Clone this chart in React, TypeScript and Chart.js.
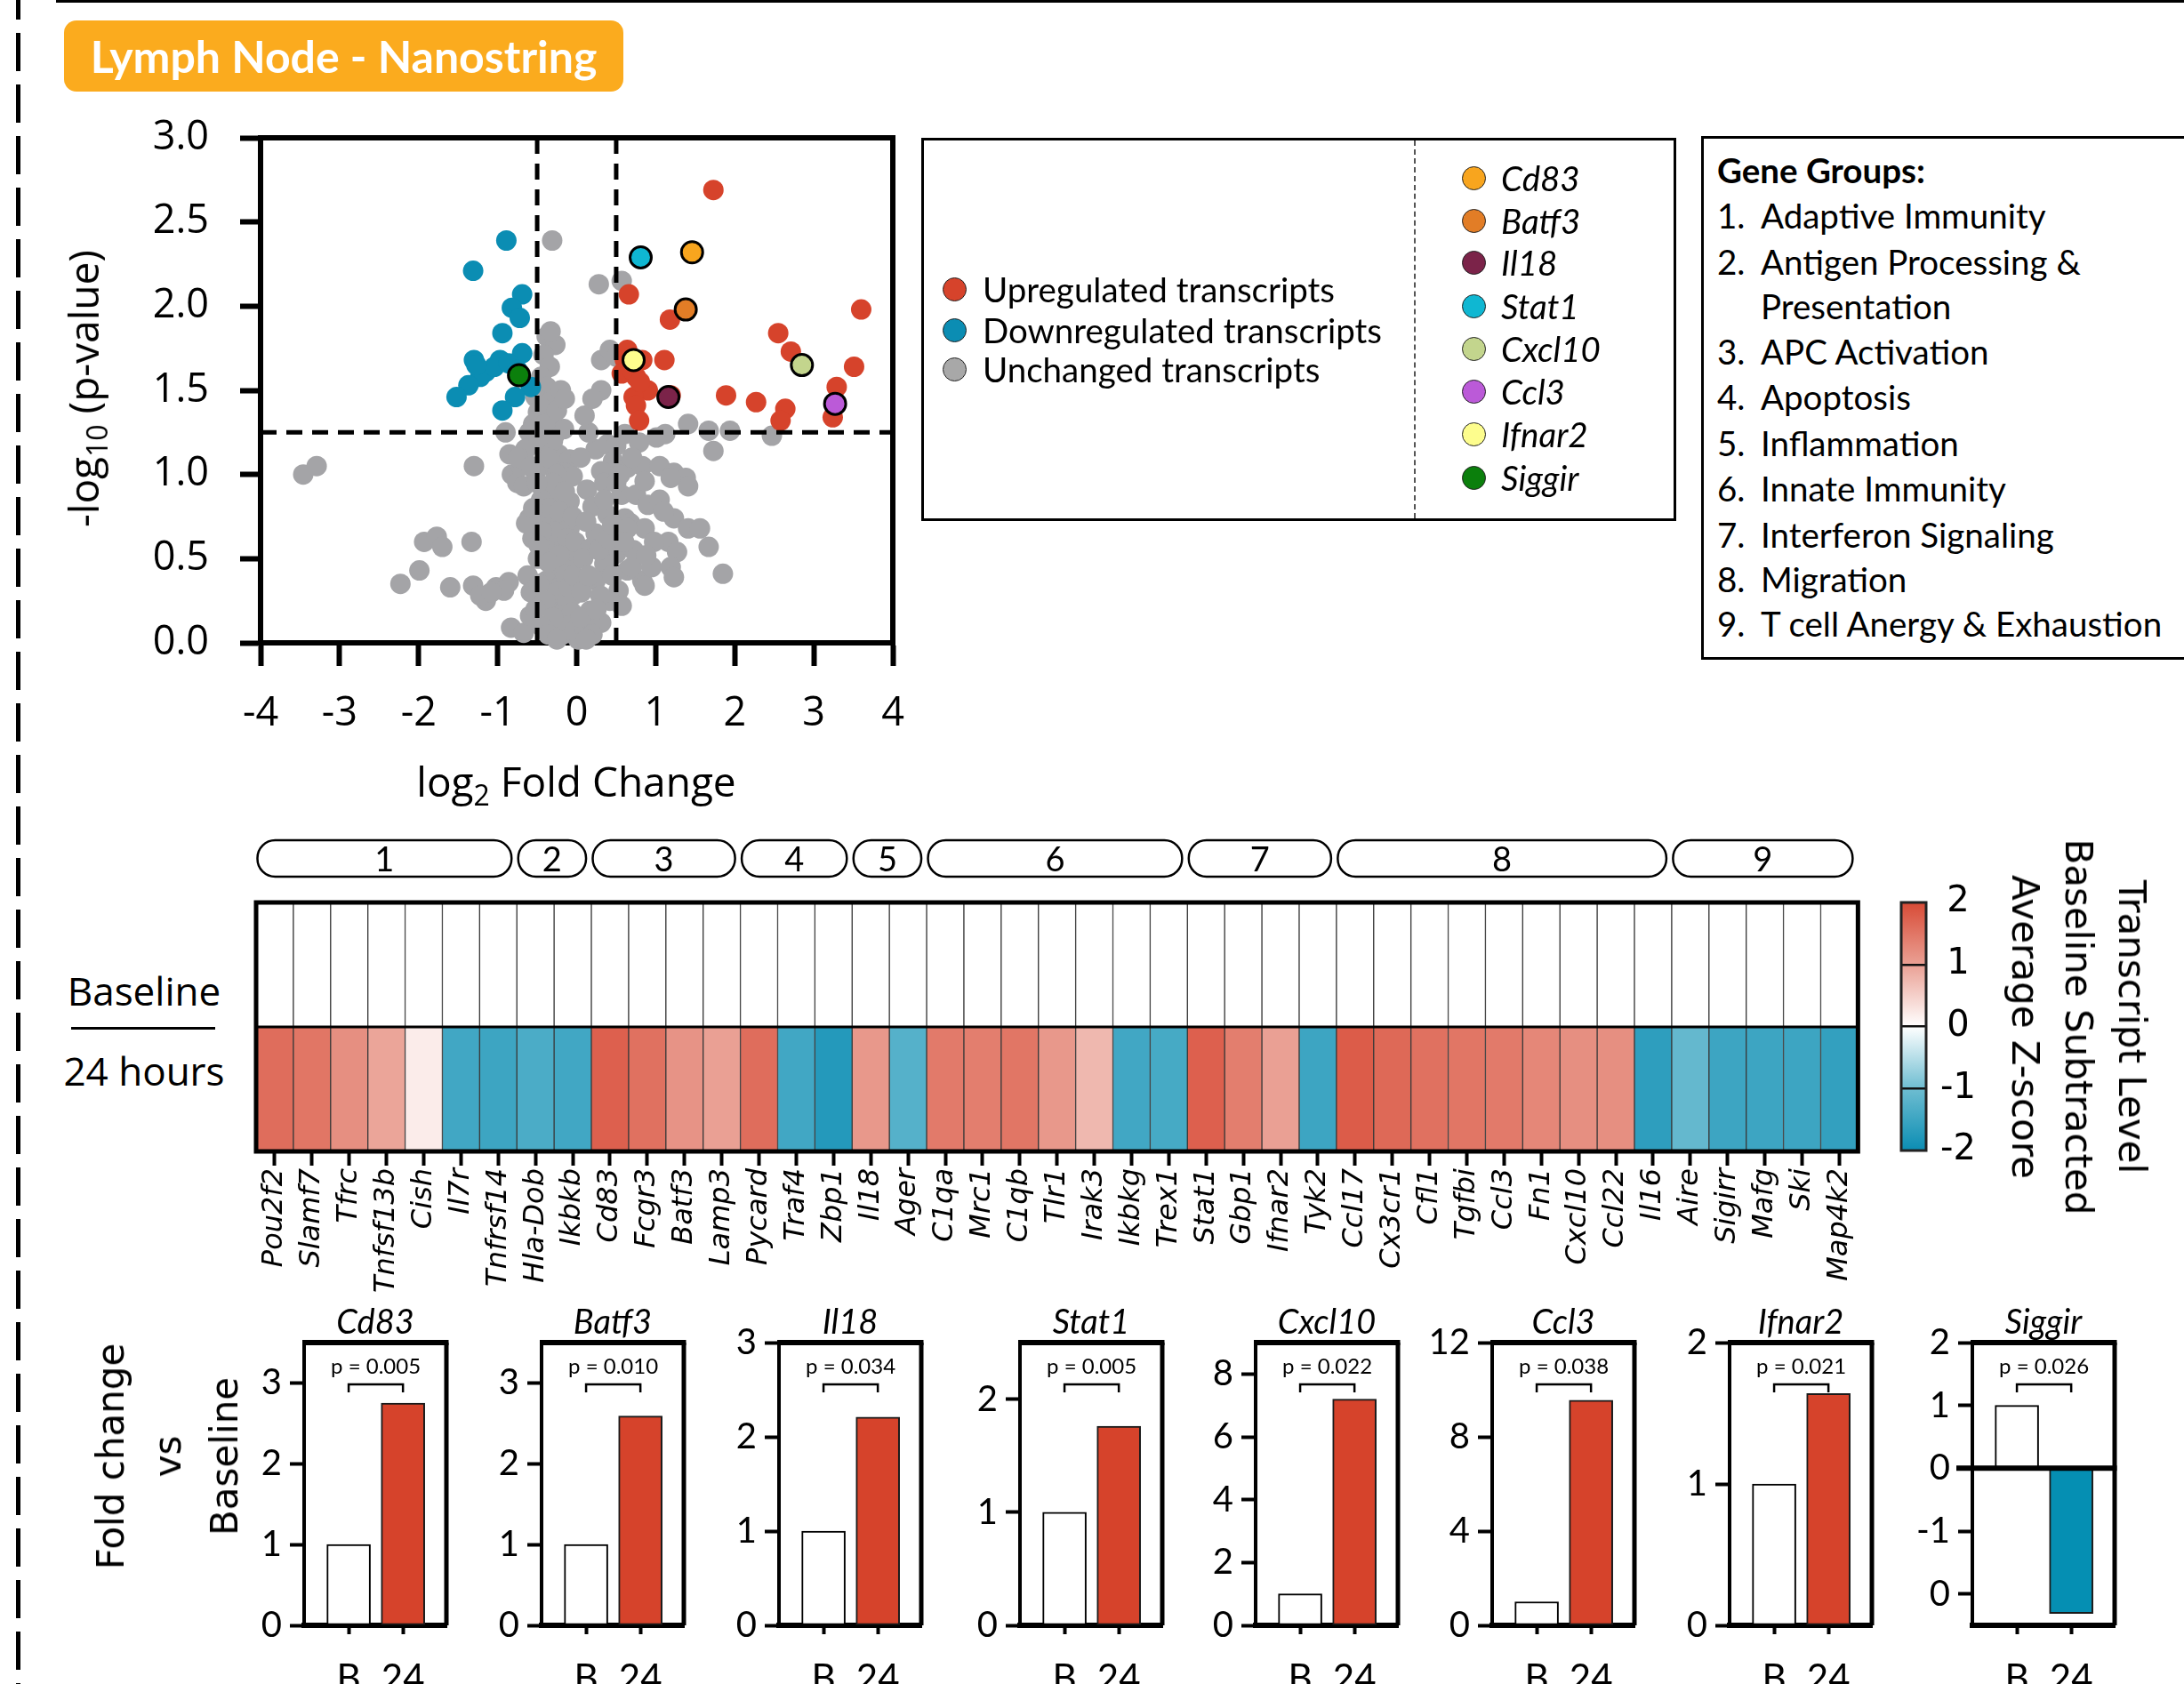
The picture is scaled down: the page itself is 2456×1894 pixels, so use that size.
import React, { useEffect, useRef } from "react";
import { Chart, registerables } from "chart.js";

Chart.register(...registerables);

// ======================= DATA =======================

// Volcano plot points: [log2 fold change, -log10 p-value]
const GRAY_POINTS: number[][] = [
  [-3.46, 1.0], [-3.29, 1.05], [-1.3, 1.05],
  [-1.93, 0.6], [-1.77, 0.63], [-1.7, 0.57], [-1.33, 0.6], [-1.99, 0.43], [-2.23, 0.35],
  [-1.6, 0.33], [-1.31, 0.34], [-1.15, 0.25], [-1.02, 0.33], [-0.86, 0.36], [-0.92, 0.31],
  [-0.83, 0.09], [-0.67, 0.06], [-0.59, 0.16], [-0.62, 0.4], [-0.58, 0.3], [-1.22, 0.28], [-1.08, 0.3],
  [-0.31, 2.39], [0.28, 2.13], [0.57, 2.15], [0.31, 1.68], [0.42, 1.74], [0.5, 1.7], [0.31, 1.5],
  [-0.38, 1.82], [-0.27, 1.77], [-0.33, 1.85],
  [1.41, 1.3], [1.67, 1.26], [1.94, 1.26], [1.73, 1.14], [2.47, 1.23], [1.12, 1.24], [1.01, 1.22],
  [-0.9, 1.25], [-0.85, 1.12], [-0.82, 1.0], [-0.75, 0.95], [-0.7, 1.05], [-0.65, 1.15], [-0.6, 1.25], [-0.55, 1.3],
  [-0.42, 1.71], [-0.34, 1.64], [-0.45, 1.58], [-0.38, 1.52], [-0.52, 1.46], [-0.34, 1.43], [-0.49, 1.37],
  [-0.31, 1.33], [-0.56, 1.27], [-0.27, 1.24], [-0.16, 1.27], [-0.42, 1.18], [-0.64, 1.15], [-0.74, 1.1],
  [-0.23, 1.12], [-0.09, 1.09], [-0.34, 1.05], [-0.52, 1.01], [-0.16, 1.01], [-0.05, 0.99], [-0.67, 0.93],
  [-0.42, 0.9], [-0.27, 0.87], [-0.09, 0.84], [-0.6, 0.74], [-0.38, 0.74], [-0.2, 0.71], [-0.09, 0.68],
  [-0.56, 0.62], [-0.34, 0.59], [-0.16, 0.57], [-0.05, 0.53], [-0.64, 0.71], [-0.49, 0.5], [-0.27, 0.45],
  [-0.09, 0.43], [-0.38, 0.37], [-0.2, 0.34], [-0.05, 0.28], [-0.31, 0.25], [-0.16, 0.19], [-0.01, 0.12],
  [-0.27, 0.09], [-0.09, 0.06], [0.02, 0.02],
  [-0.45, 1.4], [-0.4, 1.3], [-0.3, 1.2], [-0.36, 1.1], [-0.25, 1.0], [-0.3, 0.95], [-0.45, 0.85],
  [-0.35, 0.8], [-0.22, 0.78], [-0.28, 0.66], [-0.44, 0.66], [-0.12, 0.62], [-0.22, 0.52], [-0.36, 0.48],
  [-0.14, 0.4], [-0.26, 0.3], [-0.12, 0.25], [-0.22, 0.16], [-0.06, 0.18], [-0.18, 0.05], [-0.12, 0.1],
  [-0.03, 0.07], [-0.2, 1.5], [-0.25, 1.38], [-0.15, 1.45], [-0.48, 1.22], [-0.58, 1.05], [-0.5, 0.95],
  [-0.55, 0.8], [-0.15, 0.9], [-0.05, 0.75], [-0.48, 0.58], [-0.4, 0.25], [-0.3, 0.15], [-0.48, 0.35],
  [-0.52, 0.2], [-0.45, 0.1], [-0.36, 0.05], [-0.25, 0.02], [-0.1, 0.33], [-0.04, 0.4], [-0.02, 0.6],
  [0.24, 1.15], [0.39, 1.18], [0.5, 1.17], [0.61, 1.24], [0.79, 1.19], [0.46, 1.08], [0.64, 1.04],
  [0.83, 1.05], [1.05, 1.05], [1.23, 1.01], [1.38, 0.98], [1.41, 0.93], [0.31, 1.02], [0.13, 0.91],
  [0.35, 0.95], [0.57, 0.88], [0.75, 0.88], [0.9, 0.82], [1.19, 0.98], [0.86, 0.96], [0.2, 0.81],
  [0.39, 0.76], [0.61, 0.74], [0.68, 0.71], [0.86, 0.68], [0.64, 0.68], [1.23, 0.74], [1.41, 0.68],
  [1.56, 0.68], [1.67, 0.57], [1.16, 0.6], [1.27, 0.54], [1.19, 0.45], [1.23, 0.39], [1.85, 0.41],
  [0.83, 0.37], [0.86, 0.34], [0.64, 0.43], [0.5, 0.53], [0.24, 0.65], [0.17, 0.56], [0.35, 0.47],
  [0.53, 0.31], [0.24, 0.37], [0.42, 0.25], [0.57, 0.22], [0.17, 0.19], [0.31, 0.12], [0.1, 0.09],
  [0.2, 0.05], [0.06, 0.3], [0.08, 0.5], [0.12, 0.72], [0.28, 0.55], [0.4, 0.62], [0.45, 0.4],
  [0.3, 0.28], [0.15, 0.4], [0.05, 0.15], [0.12, 0.02], [0.25, 0.2], [0.35, 0.85], [0.5, 0.95],
  [0.45, 0.7], [0.72, 0.55], [0.6, 0.6], [0.7, 0.45], [0.95, 0.45], [0.98, 0.6], [0.88, 0.52],
  [1.05, 0.85], [1.1, 0.78], [0.7, 1.1], [0.55, 1.0], [0.15, 1.25], [0.1, 1.35], [0.2, 1.45], [0.05, 1.1],
];

const UP_POINTS: number[][] = [
  [1.73, 2.69], [0.66, 2.07], [1.18, 1.92], [3.6, 1.98], [2.55, 1.84], [2.71, 1.73], [3.51, 1.64],
  [3.29, 1.52], [0.64, 1.74], [0.61, 1.68], [0.83, 1.68], [1.11, 1.68], [0.9, 1.5], [0.57, 1.6],
  [0.75, 1.58], [0.72, 1.46], [0.75, 1.41], [0.79, 1.32], [1.19, 1.47], [1.89, 1.47], [2.27, 1.43],
  [2.64, 1.39], [2.58, 1.32], [3.24, 1.34], [0.7, 1.62], [0.8, 1.55],
];

const DOWN_POINTS: number[][] = [
  [-0.89, 2.39], [-1.31, 2.21], [-0.69, 2.07], [-0.82, 1.99], [-0.72, 1.93], [-0.94, 1.84],
  [-0.69, 1.72], [-1.3, 1.68], [-0.97, 1.68], [-1.15, 1.61], [-1.22, 1.58], [-1.37, 1.53],
  [-1.52, 1.46], [-0.58, 1.52], [-0.78, 1.46], [-0.94, 1.38], [-1.04, 1.64], [-0.86, 1.66],
  [-1.27, 1.65], [-0.75, 1.62],
];

const HIGHLIGHT_GENES = ["Cd83", "Batf3", "Il18", "Stat1", "Cxcl10", "Ccl3", "Ifnar2", "Siggir"];
const HIGHLIGHT_FC = [1.46, 1.38, 1.16, 0.81, 2.85, 3.27, 0.72, -0.73];
const HIGHLIGHT_P = [2.32, 1.98, 1.46, 2.29, 1.65, 1.42, 1.68, 1.59];

const FC_CUTOFFS = [-0.5, 0.5];
const P_CUTOFF = 1.25;

const LEGEND_CLASSES = ["Upregulated transcripts", "Downregulated transcripts", "Unchanged transcripts"];

const GENE_GROUP_ROWS: string[][] = [
  ["1.", "Adaptive Immunity"],
  ["2.", "Antigen Processing &"],
  ["", "Presentation"],
  ["3.", "APC Activation"],
  ["4.", "Apoptosis"],
  ["5.", "Inflammation"],
  ["6.", "Innate Immunity"],
  ["7.", "Interferon Signaling"],
  ["8.", "Migration"],
  ["9.", "T cell Anergy & Exhaustion"],
];

// Heatmap
const HEATMAP_GENES = [
  "Pou2f2", "Slamf7", "Tfrc", "Tnfsf13b", "Cish", "Il7r", "Tnfrsf14", "Hla-Dob", "Ikbkb",
  "Cd83", "Fcgr3", "Batf3", "Lamp3", "Pycard", "Traf4", "Zbp1", "Il18", "Ager",
  "C1qa", "Mrc1", "C1qb", "Tlr1", "Irak3", "Ikbkg", "Trex1", "Stat1", "Gbp1", "Ifnar2", "Tyk2",
  "Ccl17", "Cx3cr1", "Cfl1", "Tgfbi", "Ccl3", "Fn1", "Cxcl10", "Ccl22", "Il16",
  "Aire", "Sigirr", "Mafg", "Ski", "Map4k2",
];
const Z_24H = [
  1.6, 1.5, 1.2, 0.95, 0.2, -1.45, -1.5, -1.35, -1.45,
  1.75, 1.55, 1.15, 1.0, 1.6, -1.45, -1.75, 1.1, -1.25,
  1.45, 1.4, 1.5, 1.1, 0.75, -1.45, -1.4, 1.75, 1.4, 1.0, -1.5,
  1.8, 1.65, 1.55, 1.5, 1.45, 1.3, 1.2, 1.2, -1.65,
  -1.1, -1.5, -1.5, -1.5, -1.6,
];
const Z_BASELINE = [
  0, 0, 0, 0, 0, 0, 0, 0, 0,
  0, 0, 0, 0, 0, 0, 0, 0, 0,
  0, 0, 0, 0, 0, 0, 0, 0, 0, 0, 0,
  0, 0, 0, 0, 0, 0, 0, 0, 0,
  0, 0, 0, 0, 0,
];
const ROW_LABELS = ["Baseline", "24 hours"];
const GROUP_LABELS = ["1", "2", "3", "4", "5", "6", "7", "8", "9"];
const GROUP_FIRST = [0, 7, 9, 13, 16, 18, 25, 29, 38];
const GROUP_LAST = [6, 8, 12, 15, 17, 24, 28, 37, 42];
const COLORBAR_TITLE = ["Transcript Level", "Baseline Subtracted", "Average Z-score"];

// Bar charts
const BAR_GENES = ["Cd83", "Batf3", "Il18", "Stat1", "Cxcl10", "Ccl3", "Ifnar2", "Siggir"];
const BAR_CATEGORIES = ["B", "24"];
const BAR_BASELINE = [1, 1, 1, 1, 1, 1, 1, 1];
const BAR_24H = [2.75, 2.59, 2.21, 1.76, 7.2, 9.55, 1.64, -2.31];
const BAR_PVALUES = ["p = 0.005", "p = 0.010", "p = 0.034", "p = 0.005", "p = 0.022", "p = 0.038", "p = 0.021", "p = 0.026"];
const BAR_YMIN = [0, 0, 0, 0, 0, 0, 0, -2.5];
const BAR_YMAX = [3.5, 3.5, 3, 2.5, 9, 12, 2, 2];
const BAR_YTICKS: number[][] = [
  [0, 1, 2, 3], [0, 1, 2, 3], [0, 1, 2, 3], [0, 1, 2], [0, 2, 4, 6, 8], [0, 4, 8, 12], [0, 1, 2], [-2, -1, 0, 1, 2],
];
const BAR_YTICK_LABELS: string[][] = [
  ["0", "1", "2", "3"], ["0", "1", "2", "3"], ["0", "1", "2", "3"], ["0", "1", "2"],
  ["0", "2", "4", "6", "8"], ["0", "4", "8", "12"], ["0", "1", "2"], ["0", "-1", "0", "1", "2"],
];
const BAR_Y_TITLE = ["Fold change", "vs", "Baseline"];

// ======================= STYLE / LAYOUT =======================

const C_UP = "#d6432b";
const C_DOWN = "#0b8db3";
const C_GRAY = "#a4a4a7";
const HL_COLORS = ["#f8a51e", "#e27d26", "#7b2349", "#0fb7d2", "#c3d58d", "#bb5ad8", "#fdfd8d", "#0b7f0c"];
const LEGEND_COLORS = [C_UP, C_DOWN, "#a8a8a8"];
const BAR_24_COLORS = [C_UP, C_UP, C_UP, C_UP, C_UP, C_UP, C_UP, "#058fb3"];
const Z_STOPS: [number, number[]][] = [
  [-2, [11, 141, 179]],
  [-1, [110, 189, 209]],
  [0, [255, 255, 255]],
  [1, [234, 160, 148]],
  [2, [216, 75, 54]],
];

function zColor(z: number): string {
  const v = Math.max(-2, Math.min(2, z));
  for (let i = 0; i < Z_STOPS.length - 1; i++) {
    const [z0, c0] = Z_STOPS[i];
    const [z1, c1] = Z_STOPS[i + 1];
    if (v >= z0 && v <= z1) {
      const t = (v - z0) / (z1 - z0);
      const c = c0.map((a, k) => Math.round(a + (c1[k] - a) * t));
      return `rgb(${c[0]},${c[1]},${c[2]})`;
    }
  }
  return "#fff";
}

const VOLCANO_BOX = { x: 0, y: 85, w: 1050, h: 795 };
const VOLCANO_AREA = { left: 293, top: 155, right: 1004, bottom: 723 };
const HEAT_BOX = { x: 270, y: 930, w: 1840, h: 530 };
const HEAT_AREA = { left: 288, top: 1015, right: 2094, bottom: 1295 };
const CB_BOX = { x: 2125, y: 955, w: 140, h: 400 };
const CB_AREA = { left: 2138, top: 1015, right: 2166, bottom: 1294 };
const BAR_LEFT = [342, 609, 876, 1147, 1412, 1678, 1945, 2218];
const BAR_W = 160;
const BAR_TOP = 1510;
const BAR_BOTTOM = 1828;

const toXY = (pts: number[][]) => pts.map(([x, y]) => ({ x, y }));

function seg(ctx: any, x1: number, y1: number, x2: number, y2: number) {
  ctx.beginPath();
  ctx.moveTo(x1, y1);
  ctx.lineTo(x2, y2);
  ctx.stroke();
}

const baseOpts = {
  responsive: false,
  animation: false,
  events: [],
  plugins: { legend: { display: false }, tooltip: { enabled: false }, title: { display: false } },
};

// ======================= CHART CONFIGS =======================

const volcanoDecor = {
  id: "volcanoDecor",
  afterDatasetsDraw(chart: any) {
    const { ctx, chartArea: a, scales } = chart;
    const { x, y } = scales;
    ctx.save();
    ctx.strokeStyle = "#000";
    ctx.lineWidth = 5;
    ctx.setLineDash([18, 11]);
    for (const v of FC_CUTOFFS) {
      const px = x.getPixelForValue(v);
      seg(ctx, px, a.top, px, a.bottom);
    }
    const py = y.getPixelForValue(P_CUTOFF);
    seg(ctx, a.left, py, a.right, py);
    ctx.setLineDash([]);
    ctx.lineWidth = 6;
    seg(ctx, a.left - 3, a.top, a.right + 3, a.top);
    seg(ctx, a.right, a.top, a.right, a.bottom + 3);
    ctx.restore();
  },
};

function volcanoConfig(): any {
  const B = VOLCANO_BOX;
  const A = VOLCANO_AREA;
  const tickFont = { family: '"Open Sans"', size: 45 };
  return {
    type: "scatter",
    data: {
      datasets: [
        {
          data: HIGHLIGHT_FC.map((x, i) => ({ x, y: HIGHLIGHT_P[i] })),
          backgroundColor: HL_COLORS, borderColor: "#000", borderWidth: 3, pointRadius: 12, order: 0, clip: false,
        },
        { data: toXY(UP_POINTS), backgroundColor: C_UP, borderWidth: 0, pointRadius: 11.5, order: 1, clip: false },
        { data: toXY(DOWN_POINTS), backgroundColor: C_DOWN, borderWidth: 0, pointRadius: 11.5, order: 2, clip: false },
        { data: toXY(GRAY_POINTS), backgroundColor: C_GRAY, borderWidth: 0, pointRadius: 11.5, order: 3, clip: false },
      ],
    },
    options: {
      ...baseOpts,
      layout: { padding: { left: 0, top: A.top - B.y, right: B.x + B.w - A.right, bottom: 0 } },
      scales: {
        x: {
          type: "linear", min: -4, max: 4,
          ticks: { stepSize: 1, font: tickFont, color: "#000", padding: 27, maxRotation: 0 },
          grid: { drawOnChartArea: false, tickLength: 26, tickWidth: 6, tickColor: "#000" },
          border: { width: 6, color: "#000" },
          afterFit: (s: any) => { s.height = B.y + B.h - A.bottom; },
        },
        y: {
          type: "linear", min: 0, max: 3,
          ticks: { stepSize: 0.5, font: tickFont, color: "#000", padding: 35, callback: (v: any) => Number(v).toFixed(1) },
          grid: { drawOnChartArea: false, tickLength: 23, tickWidth: 6, tickColor: "#000" },
          border: { width: 6, color: "#000" },
          afterFit: (s: any) => { s.width = A.left - B.x; },
        },
      },
    },
    plugins: [volcanoDecor],
  };
}

const heatDecor = {
  id: "heatDecor",
  afterDraw(chart: any) {
    const { ctx, chartArea: a, scales } = chart;
    const { x, y } = scales;
    ctx.save();
    ctx.strokeStyle = "#000";
    ctx.lineWidth = 3;
    const ym = y.getPixelForValue(1);
    seg(ctx, a.left, ym, a.right, ym);
    ctx.lineWidth = 5;
    ctx.strokeRect(a.left, a.top, a.right - a.left, a.bottom - a.top);
    const half = (x.getPixelForValue(1) - x.getPixelForValue(0)) / 2;
    ctx.lineWidth = 2.5;
    ctx.fillStyle = "#000";
    ctx.font = "38px Lato";
    ctx.textAlign = "center";
    ctx.textBaseline = "middle";
    for (let g = 0; g < GROUP_LABELS.length; g++) {
      const l = x.getPixelForValue(GROUP_FIRST[g]) - half + 1.5;
      const r = x.getPixelForValue(GROUP_LAST[g]) + half - 6;
      const t = a.top - 70;
      const b = a.top - 29;
      ctx.beginPath();
      ctx.roundRect(l, t, r - l, b - t, 20);
      ctx.stroke();
      ctx.fillText(GROUP_LABELS[g], (l + r) / 2, (t + b) / 2 + 2);
    }
    ctx.restore();
  },
};

function heatmapConfig(): any {
  const B = HEAT_BOX;
  const A = HEAT_AREA;
  const cell = { barPercentage: 1, categoryPercentage: 1, borderColor: "#3a3a3a", borderWidth: 1, borderSkipped: false, grouped: false };
  return {
    type: "bar",
    data: {
      labels: HEATMAP_GENES,
      datasets: [
        { label: ROW_LABELS[1], data: Z_24H.map(() => [0, 1]), backgroundColor: Z_24H.map(zColor), ...cell },
        { label: ROW_LABELS[0], data: Z_BASELINE.map(() => [1, 2]), backgroundColor: Z_BASELINE.map(zColor), ...cell },
      ],
    },
    options: {
      ...baseOpts,
      layout: { padding: { left: A.left - B.x, top: A.top - B.y, right: B.x + B.w - A.right, bottom: 0 } },
      scales: {
        x: {
          type: "category", offset: true,
          ticks: { autoSkip: false, maxRotation: 90, minRotation: 90, font: { family: '"DejaVu Sans"', style: "italic", size: 32 }, color: "#000", padding: 3 },
          grid: { offset: false, drawOnChartArea: false, tickLength: 16, tickWidth: 4, tickColor: "#000" },
          border: { display: false },
          afterFit: (s: any) => { s.height = B.y + B.h - A.bottom; },
        },
        y: { display: false, min: 0, max: 2 },
      },
    },
    plugins: [heatDecor],
  };
}

const colorbarDecor = {
  id: "colorbarDecor",
  beforeDraw(chart: any) {
    const { ctx, chartArea: a, scales } = chart;
    const y = scales.y;
    const g = ctx.createLinearGradient(0, y.getPixelForValue(-2), 0, y.getPixelForValue(2));
    for (const [z] of Z_STOPS) g.addColorStop((z + 2) / 4, zColor(z));
    ctx.save();
    ctx.fillStyle = g;
    ctx.fillRect(a.left, a.top, a.right - a.left, a.bottom - a.top);
    ctx.restore();
  },
  afterDraw(chart: any) {
    const { ctx, chartArea: a } = chart;
    ctx.save();
    ctx.strokeStyle = "#222";
    ctx.lineWidth = 3;
    ctx.strokeRect(a.left, a.top, a.right - a.left, a.bottom - a.top);
    ctx.restore();
  },
};

function colorbarConfig(): any {
  const B = CB_BOX;
  const A = CB_AREA;
  return {
    type: "scatter",
    data: { datasets: [{ data: [] }] },
    options: {
      ...baseOpts,
      layout: { padding: { left: A.left - B.x, top: A.top - B.y, right: 0, bottom: B.y + B.h - A.bottom } },
      scales: {
        x: { display: false, min: 0, max: 1 },
        y: {
          position: "right", min: -2, max: 2,
          ticks: { stepSize: 1, font: { family: '"DejaVu Sans"', size: 40 }, color: "#000", crossAlign: "center", padding: 16 },
          grid: {
            drawTicks: false, lineWidth: 2.5,
            color: (c: any) => (c.tick && Math.abs(c.tick.value) < 2 ? "#111" : "rgba(0,0,0,0)"),
          },
          border: { display: false },
          afterFit: (s: any) => { s.width = B.x + B.w - A.right; },
        },
      },
    },
    plugins: [colorbarDecor],
  };
}

function barBox(i: number) {
  return { x: BAR_LEFT[i] - 110, y: 1450, w: 290, h: 444 };
}

function barDecor(i: number) {
  return {
    id: "barDecor" + i,
    afterDraw(chart: any) {
      const { ctx, chartArea: a, scales } = chart;
      const { x, y } = scales;
      ctx.save();
      ctx.strokeStyle = "#000";
      ctx.lineWidth = 6;
      seg(ctx, a.left - 2, a.top, a.right + 2.5, a.top);
      ctx.lineWidth = 5;
      seg(ctx, a.right, a.top, a.right, a.bottom);
      if (BAR_YMIN[i] < 0) {
        ctx.lineWidth = 6;
        const z = y.getPixelForValue(0);
        seg(ctx, a.left - 18, z, a.right + 2.5, z);
      }
      ctx.fillStyle = "#000";
      ctx.textAlign = "center";
      ctx.textBaseline = "alphabetic";
      ctx.font = "italic 38px Lato";
      ctx.fillText(BAR_GENES[i], (a.left + a.right) / 2, a.top - 10);
      const x0 = x.getPixelForValue(0);
      const x1 = x.getPixelForValue(1);
      ctx.font = "24px Lato";
      ctx.textBaseline = "middle";
      ctx.fillText(BAR_PVALUES[i], (x0 + x1) / 2, a.top + 27);
      ctx.lineWidth = 2.5;
      ctx.beginPath();
      ctx.moveTo(x0, a.top + 56);
      ctx.lineTo(x0, a.top + 47);
      ctx.lineTo(x1, a.top + 47);
      ctx.lineTo(x1, a.top + 56);
      ctx.stroke();
      ctx.restore();
    },
  };
}

function barConfig(i: number): any {
  const B = barBox(i);
  const A = { left: BAR_LEFT[i], right: BAR_LEFT[i] + BAR_W, top: BAR_TOP, bottom: BAR_BOTTOM };
  return {
    type: "bar",
    data: {
      datasets: [
        {
          data: [{ x: 0, y: BAR_BASELINE[i] }, { x: 1, y: BAR_24H[i] }],
          backgroundColor: ["#ffffff", BAR_24_COLORS[i]],
          borderColor: ["#000", "#1a1a1a"],
          borderWidth: 2,
          borderSkipped: false,
          barThickness: 49,
        },
      ],
    },
    options: {
      ...baseOpts,
      layout: { padding: { left: 0, top: A.top - B.y, right: B.x + B.w - A.right, bottom: 0 } },
      scales: {
        x: {
          type: "linear", min: -0.82, max: 1.8, offset: false,
          afterBuildTicks: (s: any) => { s.ticks = [{ value: 0 }, { value: 1 }]; },
          ticks: { callback: (_v: any, idx: number) => BAR_CATEGORIES[idx], font: { family: "Lato", size: 42 }, color: "#000", padding: 25, autoSkip: false, maxRotation: 0 },
          grid: { offset: false, drawOnChartArea: false, tickLength: 10, tickWidth: 4, tickColor: "#000" },
          border: { width: 6, color: "#000" },
          afterFit: (s: any) => { s.height = B.y + B.h - A.bottom; },
        },
        y: {
          type: "linear", min: BAR_YMIN[i], max: BAR_YMAX[i],
          afterBuildTicks: (s: any) => { s.ticks = BAR_YTICKS[i].map((v) => ({ value: v })); },
          ticks: { callback: (_v: any, idx: number) => BAR_YTICK_LABELS[i][idx], font: { family: "Lato", size: 40 }, color: "#000", padding: 9, autoSkip: false },
          grid: { drawOnChartArea: false, tickLength: 16, tickWidth: 4, tickColor: "#000" },
          border: { width: 4, color: "#000" },
          afterFit: (s: any) => { s.width = A.left - B.x; },
        },
      },
    },
    plugins: [barDecor(i)],
  };
}

// ======================= COMPONENTS =======================

function ChartCanvas({ box, build }: { box: { x: number; y: number; w: number; h: number }; build: () => any }) {
  const ref = useRef<HTMLCanvasElement | null>(null);
  useEffect(() => {
    if (!ref.current) return;
    const chart = new Chart(ref.current, build());
    return () => chart.destroy();
  }, []);
  return (
    <canvas
      ref={ref}
      width={box.w}
      height={box.h}
      style={{ position: "absolute", left: box.x, top: box.y, width: box.w, height: box.h }}
    />
  );
}

const abs = (left: number, top: number, extra: any = {}) => ({ position: "absolute" as const, left, top, ...extra });

export default function App() {
  const legendY = [325, 371, 415];
  const geneY = [200, 248, 295, 344, 392, 440, 488, 537];
  const groupY = [242, 294, 344, 395, 446, 498, 549, 601, 651, 701];
  return (
    <div
      style={{
        position: "absolute", left: 0, top: 0, width: 2456, height: 1894, overflow: "hidden",
        background: "#fff", color: "#000", fontFamily: "Lato",
      }}
    >
      {/* frame lines */}
      <div style={abs(63, 0, { width: 2400, height: 3, background: "#000" })} />
      <div
        style={abs(18, -21, {
          width: 5, height: 1930,
          background: "repeating-linear-gradient(to bottom, #000 0px, #000 43px, transparent 43px, transparent 58px)",
        })}
      />

      {/* header */}
      <div
        style={abs(72, 23, {
          width: 629, height: 80, borderRadius: 14, background: "#fbab1e", color: "#fff",
          display: "flex", alignItems: "center", justifyContent: "center",
          font: "bold 50px Lato", whiteSpace: "nowrap",
        })}
      >
        Lymph Node - Nanostring
      </div>

      {/* volcano */}
      <ChartCanvas box={VOLCANO_BOX} build={volcanoConfig} />
      <div
        style={abs(101, 437, {
          transform: "translate(-50%, -50%) rotate(-90deg)", whiteSpace: "nowrap",
          font: '46px "Open Sans"', lineHeight: "60px",
        })}
      >
        -log<sub style={{ fontSize: 32 }}>10</sub> (p-value)
      </div>
      <div
        style={abs(648, 886, {
          transform: "translate(-50%, -50%)", whiteSpace: "nowrap",
          font: '46px "Open Sans"', lineHeight: "60px",
        })}
      >
        log<sub style={{ fontSize: 32 }}>2</sub> Fold Change
      </div>

      {/* legend box */}
      <div style={abs(1036, 155, { width: 849, height: 431, border: "3px solid #000", boxSizing: "border-box" })} />
      <div style={abs(1590, 158, { width: 0, height: 425, borderLeft: "2px dashed #555" })} />
      {LEGEND_CLASSES.map((t, i) => (
        <div
          key={t}
          style={abs(1060, legendY[i] - 22, {
            height: 44, display: "flex", alignItems: "center", font: "38.5px Lato", whiteSpace: "nowrap",
          })}
        >
          <span
            style={{
              display: "inline-block", width: 27, height: 27, borderRadius: "50%", background: LEGEND_COLORS[i],
              border: "1.5px solid #222", boxSizing: "border-box", marginRight: 18,
            }}
          />
          {t}
        </div>
      ))}
      {HIGHLIGHT_GENES.map((g, i) => (
        <div
          key={g}
          style={abs(1644, geneY[i] - 22, {
            height: 44, display: "flex", alignItems: "center", font: "italic 38.5px Lato", whiteSpace: "nowrap",
          })}
        >
          <span
            style={{
              display: "inline-block", width: 27, height: 27, borderRadius: "50%", background: HL_COLORS[i],
              border: "1.5px solid #222", boxSizing: "border-box", marginRight: 17,
            }}
          />
          {g}
        </div>
      ))}

      {/* gene groups box */}
      <div style={abs(1913, 153, { width: 600, height: 589, border: "3px solid #000", boxSizing: "border-box" })} />
      <div style={abs(1931, 171, { font: "bold 38.5px Lato", lineHeight: "40px", whiteSpace: "nowrap" })}>Gene Groups:</div>
      {GENE_GROUP_ROWS.map(([n, t], i) => (
        <React.Fragment key={i}>
          <div style={abs(1931, groupY[i] - 20, { font: "38.5px Lato", lineHeight: "40px" })}>{n}</div>
          <div style={abs(1980, groupY[i] - 20, { font: "38.5px Lato", lineHeight: "40px", whiteSpace: "nowrap" })}>{t}</div>
        </React.Fragment>
      ))}

      {/* heatmap */}
      <ChartCanvas box={HEAT_BOX} build={heatmapConfig} />
      <ChartCanvas box={CB_BOX} build={colorbarConfig} />
      <div style={abs(162, 1114, { transform: "translate(-50%, -50%)", font: '44px "Open Sans"', lineHeight: "44px", whiteSpace: "nowrap" })}>
        {ROW_LABELS[0]}
      </div>
      <div style={abs(80, 1155, { width: 162, height: 3, background: "#000" })} />
      <div style={abs(162, 1204, { transform: "translate(-50%, -50%)", font: '44px "Open Sans"', lineHeight: "44px", whiteSpace: "nowrap" })}>
        {ROW_LABELS[1]}
      </div>
      <div
        style={abs(2337, 1155, {
          transform: "translate(-50%, -50%) rotate(90deg)", textAlign: "center", whiteSpace: "nowrap",
          font: '42px "DejaVu Sans"', lineHeight: "60px",
        })}
      >
        {COLORBAR_TITLE.map((t) => (
          <div key={t}>{t}</div>
        ))}
      </div>

      {/* bar charts */}
      {BAR_GENES.map((g, i) => (
        <ChartCanvas key={g} box={barBox(i)} build={() => barConfig(i)} />
      ))}
      <div
        style={abs(189, 1638, {
          transform: "translate(-50%, -50%) rotate(-90deg)", textAlign: "center", whiteSpace: "nowrap",
          font: '42px "DejaVu Sans"', lineHeight: "64px",
        })}
      >
        {BAR_Y_TITLE.map((t) => (
          <div key={t}>{t}</div>
        ))}
      </div>
    </div>
  );
}
